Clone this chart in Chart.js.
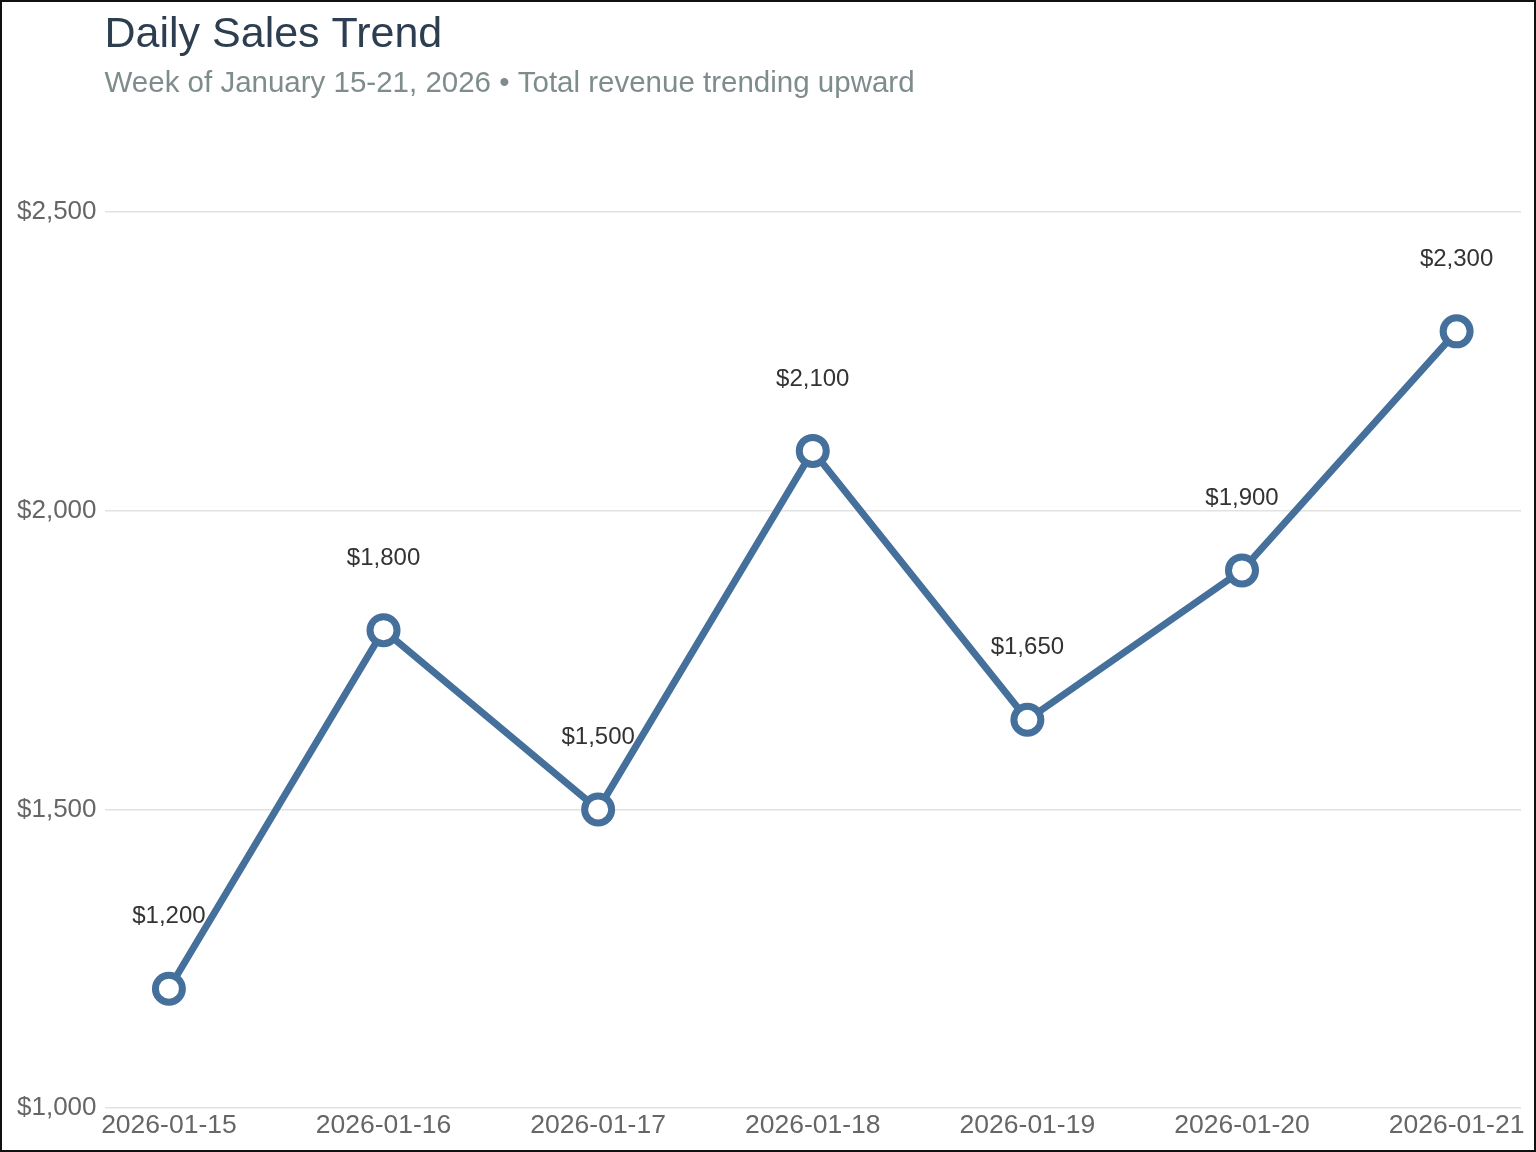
<!DOCTYPE html>
<html>
<head>
<meta charset="utf-8">
<script src="https://cdn.jsdelivr.net/npm/chart.js@4"></script>
<style>
  html, body { margin: 0; padding: 0; background: #fff; }
  #wrap { width: 1536px; height: 1152px; box-sizing: border-box; border: 2px solid #111; position: relative; }
  canvas { display: block; }
</style>
</head>
<body>
<div id="wrap"><canvas id="c" width="1532" height="1148"></canvas></div>
<script>
const categories = ['2026-01-15', '2026-01-16', '2026-01-17', '2026-01-18', '2026-01-19', '2026-01-20', '2026-01-21'];
const salesValues = [1200, 1800, 1500, 2100, 1650, 1900, 2300];
const yTickValues = [1000, 1500, 2000, 2500];

const fmt = v => '$' + v.toLocaleString('en-US');
const FONT = "'Liberation Sans', Arial, Helvetica, sans-serif";

const valueLabels = {
  id: 'valueLabels',
  afterDatasetsDraw(chart) {
    const ctx = chart.ctx;
    const meta = chart.getDatasetMeta(0);
    ctx.save();
    ctx.font = '24px ' + FONT;
    ctx.fillStyle = '#333333';
    ctx.textAlign = 'center';
    ctx.textBaseline = 'middle';
    meta.data.forEach((pt, i) => {
      ctx.fillText(fmt(salesValues[i]), pt.x, pt.y - 72);
    });
    ctx.restore();
  }
};

new Chart(document.getElementById('c'), {
  type: 'line',
  data: {
    datasets: [{
      data: salesValues.map((v, i) => ({ x: i, y: v })),
      borderColor: '#44709b',
      borderWidth: 7,
      pointRadius: 13.5,
      pointHoverRadius: 13.5,
      pointBorderWidth: 7,
      pointBackgroundColor: '#ffffff',
      pointBorderColor: '#44709b',
      tension: 0,
      fill: false
    }]
  },
  options: {
    responsive: false,
    animation: false,
    devicePixelRatio: 1,
    layout: { autoPadding: false, padding: { top: 7, left: 7, right: 13, bottom: 6 } },
    plugins: {
      legend: { display: false },
      tooltip: { enabled: false },
      title: {
        display: true,
        text: 'Daily Sales Trend',
        align: 'start',
        fullSize: false,
        color: '#2c3e50',
        font: { family: FONT, size: 43, weight: 'normal' },
        padding: { top: 0, bottom: 5.7 }
      },
      subtitle: {
        display: true,
        text: 'Week of January 15-21, 2026 \u2022 Total revenue trending upward',
        align: 'start',
        fullSize: false,
        color: '#7f8c8d',
        font: { family: FONT, size: 29.5, weight: 'normal' },
        padding: { top: 0, bottom: 50.4 }
      }
    },
    scales: {
      x: {
        type: 'linear',
        min: -0.3,
        max: 6.3,
        afterBuildTicks: s => { s.ticks = categories.map((c, i) => ({ value: i })); },
        afterFit: s => { s.paddingLeft = 0; s.paddingRight = 0; },
        grid: { display: false, drawTicks: false },
        border: { display: false },
        ticks: {
          padding: 2,
          color: '#666666',
          font: { family: FONT, size: 26.5 },
          maxRotation: 0,
          autoSkip: false,
          callback: v => categories[v]
        }
      },
      y: {
        min: 1000,
        max: 2600,
        afterBuildTicks: s => { s.ticks = yTickValues.map(v => ({ value: v })); },
        grid: { color: '#e2e2e2', lineWidth: 1.5, drawTicks: false },
        border: { display: false },
        ticks: {
          padding: 8,
          color: '#666666',
          font: { family: FONT, size: 26 },
          callback: v => fmt(v)
        }
      }
    }
  },
  plugins: [valueLabels]
});
</script>
</body>
</html>
